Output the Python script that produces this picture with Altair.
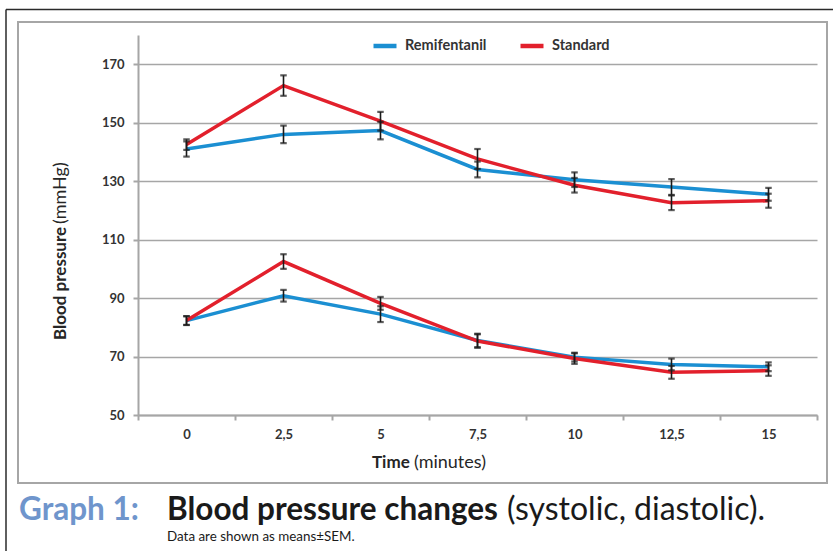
import altair as alt
import pandas as pd

# ---------------- data ----------------
times = ["0", "2,5", "5", "7,5", "10", "12,5", "15"]
groups = ["Remifentanil", "Standard"]

remi_sys = [141.0, 146.0, 147.3, 134.0, 130.5, 128.0, 125.5]
remi_sys_sem = [2.6, 3.0, 3.0, 2.7, 2.5, 2.7, 2.2]
std_sys = [142.5, 162.7, 150.5, 137.6, 128.6, 122.6, 123.3]
std_sys_sem = [1.8, 3.5, 3.2, 3.4, 2.5, 2.5, 2.4]

remi_dia = [82.3, 90.8, 84.5, 75.5, 69.8, 67.3, 66.5]
remi_dia_sem = [1.5, 2.0, 2.7, 2.3, 1.5, 2.0, 1.5]
std_dia = [82.3, 102.5, 88.2, 75.3, 69.3, 64.6, 65.2]
std_dia_sem = [1.5, 2.5, 2.2, 2.3, 1.8, 2.2, 1.8]

y_ticks = [50, 70, 90, 110, 130, 150, 170]

title_lead = ["Graph 1:"]
title_bold = ["Blood pressure changes"]
title_rest = ["(systolic, diastolic)."]
subtitle = ["Data are shown as means±SEM."]
x_title = ["Time", "(minutes)"]
y_title = ["Blood pressure", "(mmHg)"]

BLUE = "#1b8fd2"
RED = "#e2202c"
GRID = "#a6a6a6"
FONT = "Lato"

rows = []
series = [
    ("Remifentanil", "systolic", remi_sys, remi_sys_sem),
    ("Remifentanil", "diastolic", remi_dia, remi_dia_sem),
    ("Standard", "systolic", std_sys, std_sys_sem),
    ("Standard", "diastolic", std_dia, std_dia_sem),
]
for g, m, vals, sems in series:
    for t, v, s in zip(times, vals, sems):
        rows.append({"time": t, "group": g, "measure": m, "value": v,
                     "lo": v - s, "hi": v + s})
df = pd.DataFrame(rows)

W, H = 679, 380
PL, PT = 138, 35


def X():
    return alt.X(
        "time:O", sort=times, bandPosition=0.5,
        scale=alt.Scale(type="band", paddingInner=0, paddingOuter=0),
        axis=alt.Axis(title=None, tickBand="extent", labelAngle=0,
                      domainColor=GRID, domainWidth=2, tickColor=GRID,
                      tickWidth=2, tickSize=5, labelFont=FONT,
                      labelFontWeight="bold", labelFontSize=13,
                      labelColor="#333333", labelPadding=8, grid=False),
    )


yscale = alt.Scale(domain=[50, 180], nice=False, zero=False)
yaxis = alt.Axis(title=None, values=y_ticks, grid=True, gridColor=GRID,
                 gridWidth=1.5, domainColor=GRID, domainWidth=2,
                 tickColor=GRID, tickWidth=2, tickSize=5, labelFont=FONT,
                 labelFontWeight="bold", labelFontSize=13,
                 labelColor="#333333", labelPadding=9)

color = alt.Color(
    "group:N",
    scale=alt.Scale(domain=groups, range=[BLUE, RED]),
    legend=alt.Legend(orient="none", legendX=233, legendY=-3,
                      direction="horizontal", title=None,
                      symbolType="stroke", symbolStrokeWidth=4.5,
                      symbolSize=529, labelFont=FONT,
                      labelFontWeight="bold", labelFontSize=14.5,
                      labelColor="#333333", labelOffset=6,
                      columnPadding=24),
)

base = alt.Chart(df)

lines = base.mark_line(strokeWidth=3.5).encode(
    x=X(),
    y=alt.Y("value:Q", scale=yscale, axis=yaxis),
    color=color,
    detail="measure:N",
    order=alt.Order("time_idx:Q"),
).transform_calculate(
    time_idx="indexof(" + str(times) + ", datum.time)"
)

err = base.mark_rule(color="#1a1a1a", strokeWidth=1.6).encode(
    x=X(), y=alt.Y("lo:Q", scale=yscale), y2="hi:Q")
cap_lo = base.mark_tick(color="#1a1a1a", thickness=2.2, size=6.5).encode(
    x=X(), y=alt.Y("lo:Q", scale=yscale))
cap_hi = base.mark_tick(color="#1a1a1a", thickness=2.2, size=6.5).encode(
    x=X(), y=alt.Y("hi:Q", scale=yscale))


def txt(lst, x, y, size, weight="normal", color="#1a1a1a", angle=0,
        align="left", baseline="alphabetic"):
    kw = dict(font=FONT, fontSize=size, fontWeight=weight, color=color,
              align=align, baseline=baseline)
    if angle:
        kw["angle"] = angle
    return alt.Chart(pd.DataFrame({"t": lst})).mark_text(**kw).encode(
        text="t:N", x=alt.value(x), y=alt.value(y))


one = pd.DataFrame({"a": [0]})
inner_box = alt.Chart(one).mark_rect(
    fill="transparent", stroke=GRID, strokeWidth=2).encode(
    x=alt.value(18 - PL), x2=alt.value(827 - PL),
    y=alt.value(22 - PT), y2=alt.value(483 - PT))
frame_left = alt.Chart(one).mark_rule(color="#2a2a2a", strokeWidth=1.5).encode(
    x=alt.value(6 - PL), y=alt.value(9.5 - PT), y2=alt.value(551 - PT))
frame_top = alt.Chart(one).mark_rule(color="#2a2a2a", strokeWidth=1.5).encode(
    x=alt.value(6 - PL), x2=alt.value(833 - PL), y=alt.value(9.5 - PT))

texts = [
    txt(title_lead, 19 - PL, 520 - PT, 31.5, "bold", "#6f95cc"),
    txt(title_bold, 167 - PL, 520 - PT, 31.5, "bold", "#1a1a1a"),
    txt(title_rest, 507 - PL, 520 - PT, 32, "normal", "#1a1a1a"),
    txt(subtitle, 167 - PL, 541 - PT, 13.4, "normal", "#1a1a1a"),
    txt(x_title[:1], 372 - PL, 468 - PT, 17, "bold", "#262626"),
    txt(x_title[1:], 414 - PL, 468 - PT, 18, "normal", "#262626"),
    txt(y_title[:1], 66 - PL, 340 - PT, 17, "bold", "#262626", angle=270),
    txt(y_title[1:], 66 - PL, 224 - PT, 18, "normal", "#262626", angle=270),
]

chart = alt.layer(
    inner_box, frame_left, frame_top, lines, err, cap_lo, cap_hi, *texts
).properties(
    width=W, height=H,
    padding={"left": PL, "top": PT, "right": 833 - PL - W,
             "bottom": 551 - PT - H},
    autosize=alt.AutoSizeParams(type="none"),
    background="white",
).configure_view(stroke=None)

chart.save("out.html", embed_options={"renderer": "svg", "actions": False})
